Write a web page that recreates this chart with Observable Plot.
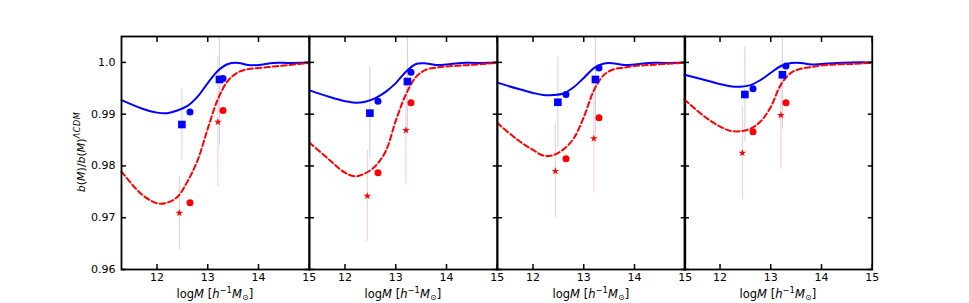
<!DOCTYPE html>
<html><head><meta charset="utf-8">
<script src="https://cdn.jsdelivr.net/npm/d3@7"></script>
<script src="https://cdn.jsdelivr.net/npm/@observablehq/plot@0.6"></script>
<style>
body{margin:0;background:#fff;}
#chart{position:relative;width:969px;height:303px;font-family:"DejaVu Sans",sans-serif;}
#chart svg{position:absolute;top:0;overflow:visible;background:none;}
</style></head><body><div id="chart"></div>
<script>
// log M grid on which the model curves are read (one row per panel)
const massGrid = [11.3, 11.7, 12.0, 12.2, 12.4, 12.6, 12.8, 13.0, 13.2, 13.4, 13.6, 13.8, 14.0, 14.3, 14.6, 15.0];
const blueCurves = [
  [0.9927, 0.9911, 0.9903, 0.9902, 0.9907, 0.9916, 0.9934, 0.9960, 0.9984, 0.9997, 0.9999, 0.9995, 0.9995, 0.9999, 0.9999, 1.0000],
  [0.9946, 0.9933, 0.9925, 0.9922, 0.9924, 0.9931, 0.9943, 0.9960, 0.9982, 0.9997, 0.9998, 0.9995, 0.9996, 0.9999, 0.9999, 1.0000],
  [0.9961, 0.9949, 0.9941, 0.9937, 0.9937, 0.9940, 0.9952, 0.9970, 0.9989, 0.9998, 0.9998, 0.9995, 0.9996, 0.9999, 0.9999, 1.0000],
  [0.9976, 0.9966, 0.9958, 0.9954, 0.9953, 0.9956, 0.9966, 0.9980, 0.9993, 0.9999, 0.9999, 0.9996, 0.9997, 0.9999, 1.0000, 1.0000]
];
const redCurves = [
  [0.9789, 0.9745, 0.9728, 0.9729, 0.9740, 0.9770, 0.9811, 0.9872, 0.9929, 0.9965, 0.9981, 0.9987, 0.9989, 0.9992, 0.9995, 0.9999],
  [0.9845, 0.9811, 0.9787, 0.9780, 0.9786, 0.9800, 0.9828, 0.9887, 0.9938, 0.9972, 0.9986, 0.9990, 0.9992, 0.9994, 0.9996, 0.9999],
  [0.9883, 0.9850, 0.9831, 0.9820, 0.9821, 0.9832, 0.9853, 0.9894, 0.9946, 0.9976, 0.9987, 0.9990, 0.9993, 0.9995, 0.9997, 0.9999],
  [0.9928, 0.9895, 0.9876, 0.9868, 0.9867, 0.9872, 0.9886, 0.9914, 0.9957, 0.9980, 0.9988, 0.9991, 0.9994, 0.9996, 0.9997, 0.9999]
];
// measured points (two mass bins)
const squareMass = [12.49, 13.23];
const circleMass = [12.65, 13.30];
const starMass = [12.44, 13.20];
const blueSquares = [[0.9880, 0.9967], [0.9902, 0.9963], [0.9923, 0.9967], [0.9938, 0.9976]];
const blueSquareErr = [[0.0069, 0.0127], [0.0089, 0.0100], [0.0088, 0.0107], [0.0091, 0.0105]];
const blueCircles = [[0.9904, 0.9969], [0.9925, 0.9981], [0.9938, 0.9989], [0.9949, 0.9993]];
const redStars = [[0.9709, 0.9885], [0.9742, 0.9869], [0.9790, 0.9853], [0.9825, 0.9898]];
const redStarErr = [[0.0071, 0.0125], [0.0088, 0.0104], [0.0090, 0.0105], [0.0090, 0.0105]];
const redCircles = [[0.9729, 0.9907], [0.9787, 0.9922], [0.9814, 0.9893], [0.9866, 0.9922]];
const xTicks = [12, 13, 14, 15];
const yTicks = [0.96, 0.97, 0.98, 0.99, 1.0];
const yTickLabels = ["0.96", "0.97", "0.98", "0.99", "1.0"];
const xDomain = [11.3, 15];
const yDomain = [0.96, 1.005];

const BLUE = "#0000ff", RED = "#ff0000";
const chart = document.getElementById("chart");
const left0 = 121, pw = 187.75, mt = 36, mb = 34, H = 303;

for (let p = 0; p < 4; p++) {
  const ml = p === 0 ? left0 : 0;
  const blueLine = massGrid.map((m, i) => ({m, v: blueCurves[p][i]}));
  const redLine = massGrid.map((m, i) => ({m, v: redCurves[p][i]}));
  const sq = squareMass.map((m, i) => ({m, v: blueSquares[p][i], e: blueSquareErr[p][i]}));
  const bc = circleMass.map((m, i) => ({m, v: blueCircles[p][i]}));
  const st = starMass.map((m, i) => ({m, v: redStars[p][i], e: redStarErr[p][i]}));
  const rc = circleMass.map((m, i) => ({m, v: redCircles[p][i]}));
  const noText = () => "";
  const marks = [
    Plot.ruleX(sq, {x: "m", y1: d => d.v - d.e, y2: d => d.v + d.e, stroke: "#d0d0ff", strokeWidth: 1.1, clip: true}),
    Plot.ruleX(st, {x: "m", y1: d => d.v - d.e, y2: d => d.v + d.e, stroke: "#ffcccc", strokeWidth: 1.1, clip: true}),
    Plot.line(blueLine, {x: "m", y: "v", stroke: BLUE, strokeWidth: 2, curve: "catmull-rom"}),
    Plot.line(redLine, {x: "m", y: "v", stroke: RED, strokeWidth: 2, strokeDasharray: "5.5,3", curve: "catmull-rom"}),
    Plot.dot(sq, {x: "m", y: "v", symbol: "square", r: 4.3, fill: BLUE, stroke: "none"}),
    Plot.dot(bc, {x: "m", y: "v", symbol: "circle", r: 3.5, fill: BLUE, stroke: "none"}),
    Plot.dot(st, {x: "m", y: "v", symbol: "star", r: 2.4, fill: RED, stroke: "none"}),
    Plot.dot(rc, {x: "m", y: "v", symbol: "circle", r: 3.5, fill: RED, stroke: "none"}),
    Plot.frame({stroke: "black", strokeWidth: 1.8}),
    Plot.axisX({anchor: "bottom", ticks: xTicks, tickSize: 0, tickPadding: 4, tickFormat: d => String(d), label: null}),
    Plot.axisX({anchor: "bottom", ticks: xTicks, tickSize: 5, dy: -5, tickFormat: noText, label: null, strokeWidth: 1.5}),
    Plot.axisX({anchor: "top", ticks: xTicks, tickSize: 5, dy: 5, tickFormat: noText, label: null, strokeWidth: 1.5}),
    Plot.axisY({anchor: "left", ticks: yTicks, tickSize: 5, dx: 5, tickFormat: noText, label: null, strokeWidth: 1.5}),
    Plot.axisY({anchor: "right", ticks: yTicks, tickSize: 5, dx: -5, tickFormat: noText, label: null, strokeWidth: 1.5})
  ];
  if (p === 0) {
    marks.push(Plot.axisY({anchor: "left", ticks: yTicks, tickSize: 0, tickPadding: 6,
      tickFormat: d => yTickLabels[yTicks.indexOf(d)], label: null}));
  }
  const svg = Plot.plot({
    width: ml + pw, height: H,
    marginLeft: ml, marginRight: 0, marginTop: mt, marginBottom: mb,
    style: {fontFamily: "DejaVu Sans, sans-serif", fontSize: "11px", color: "black", background: "none", overflow: "visible"},
    x: {domain: xDomain},
    y: {domain: yDomain},
    marks
  });
  svg.style.left = (p === 0 ? 0 : left0 + p * pw) + "px";
  chart.appendChild(svg);

  // x-axis label: log M [h^-1 M_sun]
  const sel = d3.select(svg);
  const t = sel.append("text")
    .attr("x", ml + pw / 2).attr("y", 297.5)
    .attr("text-anchor", "middle")
    .attr("font-size", 11.5).attr("fill", "black")
    .style("font-family", "DejaVu Sans, sans-serif");
  t.append("tspan").text("log");
  t.append("tspan").attr("font-style", "italic").text("M");
  t.append("tspan").text(" [");
  t.append("tspan").attr("font-style", "italic").text("h");
  t.append("tspan").attr("dy", -4.5).attr("font-size", 8.5).text("−1");
  t.append("tspan").attr("dy", 4.5).attr("font-style", "italic").text("M");
  t.append("tspan").attr("dy", 2).attr("font-size", 8).text("⊙");
  t.append("tspan").attr("dy", -2).text("]");

  if (p === 0) {
    const yl = sel.append("text")
      .attr("transform", "translate(85,152) rotate(-90)")
      .attr("text-anchor", "middle")
      .attr("font-size", 11).attr("fill", "black")
      .style("font-family", "DejaVu Sans, sans-serif");
    yl.append("tspan").attr("font-style", "italic").text("b");
    yl.append("tspan").text("(");
    yl.append("tspan").attr("font-style", "italic").text("M");
    yl.append("tspan").text(")/");
    yl.append("tspan").attr("font-style", "italic").text("b");
    yl.append("tspan").text("(");
    yl.append("tspan").attr("font-style", "italic").text("M");
    yl.append("tspan").text(")");
    yl.append("tspan").attr("dy", -5).attr("font-size", 8).attr("font-style", "italic").attr("letter-spacing", "0.6").text("ΛCDM");
  }
}
</script></body></html>
